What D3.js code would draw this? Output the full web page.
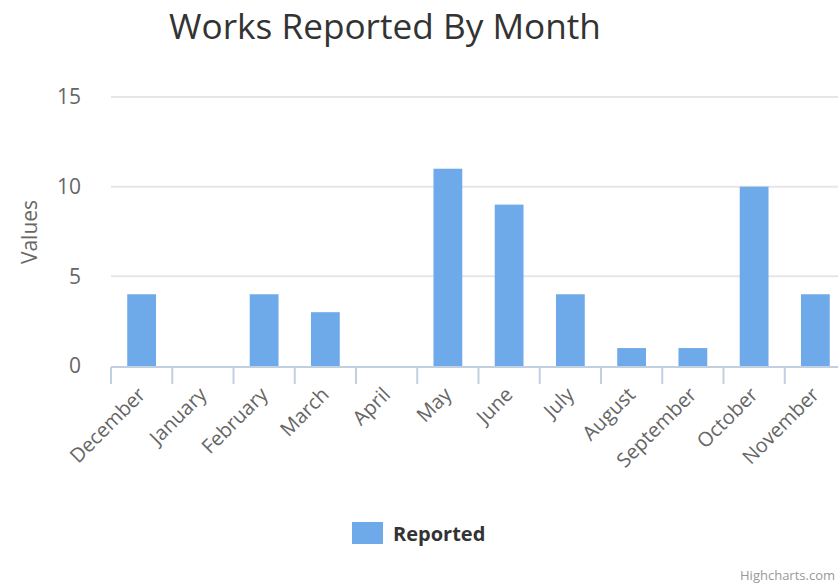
<!DOCTYPE html>
<html>
<head>
<meta charset="utf-8">
<script src="https://cdn.jsdelivr.net/npm/d3@7"></script>
<style>
  html, body { margin: 0; padding: 0; background: #fff; overflow: hidden; }
  svg { display: block; font-family: "Open Sans", "DejaVu Sans", sans-serif; }
</style>
</head>
<body>
<svg id="chart" width="838" height="586"></svg>
<script>
// Monthly counts of reported works
const months = ["December", "January", "February", "March", "April", "May",
                "June", "July", "August", "September", "October", "November"];
const reported = [4, 0, 4, 3, 0, 11, 9, 4, 1, 1, 10, 4];
const yTicks = [0, 5, 10, 15];

const svg = d3.select("#chart");

// plot area (runs slightly past the right edge of the canvas)
const plot = { left: 111, top: 97, right: 846, bottom: 366 };

const x = d3.scaleBand()
  .domain(months)
  .range([plot.left, plot.right])
  .paddingInner(0)
  .paddingOuter(0);

const y = d3.scaleLinear()
  .domain([0, 15])
  .range([plot.bottom, plot.top]);

// horizontal grid lines
svg.append("g")
  .selectAll("line")
  .data(yTicks.filter(d => d !== 0))
  .join("line")
  .attr("x1", plot.left).attr("x2", plot.right)
  .attr("y1", d => y(d)).attr("y2", d => y(d))
  .attr("stroke", "#e6e6e6")
  .attr("stroke-width", 2);

// y tick labels
svg.append("g")
  .selectAll("text")
  .data(yTicks)
  .join("text")
  .attr("x", 81)
  .attr("y", d => y(d))
  .attr("dy", "0.35em")
  .attr("text-anchor", "end")
  .attr("fill", "#666")
  .attr("font-size", 21)
  .text(d => d);

// y axis title
svg.append("text")
  .attr("transform", `translate(37,232) rotate(-90)`)
  .attr("text-anchor", "middle")
  .attr("fill", "#666")
  .attr("font-size", 21)
  .text("Values");

// bars
const barW = x.bandwidth() * 0.47;
svg.append("g")
  .selectAll("rect")
  .data(months.map((m, i) => ({ m, v: reported[i] })))
  .join("rect")
  .attr("x", d => x(d.m) + (x.bandwidth() - barW) / 2)
  .attr("y", d => y(d.v))
  .attr("width", barW)
  .attr("height", d => y(0) - y(d.v))
  .attr("fill", "#6eaaea");

// x axis line and tick marks at category boundaries
const xAxis = svg.append("g");
xAxis.append("line")
  .attr("x1", plot.left).attr("x2", plot.right)
  .attr("y1", plot.bottom + 1).attr("y2", plot.bottom + 1)
  .attr("stroke", "#c0d0e0")
  .attr("stroke-width", 2);
xAxis.selectAll("line.tick")
  .data(months)
  .join("line")
  .attr("class", "tick")
  .attr("x1", d => x(d)).attr("x2", d => x(d))
  .attr("y1", plot.bottom + 1).attr("y2", plot.bottom + 18)
  .attr("stroke", "#c0d0e0")
  .attr("stroke-width", 2);

// rotated month labels
xAxis.selectAll("text")
  .data(months)
  .join("text")
  .attr("transform", d => `translate(${x(d) + x.bandwidth() / 2 - 5},${plot.bottom + 20}) rotate(-45)`)
  .attr("text-anchor", "end")
  .attr("dy", "0.7em")
  .attr("fill", "#666")
  .attr("font-size", 20)
  .text(d => d);

// title
const title = svg.append("text")
  .attr("x", 385)
  .attr("y", 39)
  .attr("text-anchor", "middle")
  .attr("fill", "#333")
  .attr("font-size", 34)
  .text("Works Reported By Month");
// fit the title to its box width
const tw = title.node().getComputedTextLength();
title.attr("font-size", 34 * 432 / tw);

// legend
const legend = svg.append("g");
legend.append("rect")
  .attr("x", 352).attr("y", 522)
  .attr("width", 31).attr("height", 22)
  .attr("fill", "#6eaaea");
legend.append("text")
  .attr("x", 393).attr("y", 541)
  .attr("fill", "#333")
  .attr("font-size", 20)
  .attr("font-weight", "bold")
  .text("Reported");

// credits
svg.append("text")
  .attr("x", 835).attr("y", 580)
  .attr("text-anchor", "end")
  .attr("fill", "#999")
  .attr("font-size", 13)
  .text("Highcharts.com");
</script>
</body>
</html>
